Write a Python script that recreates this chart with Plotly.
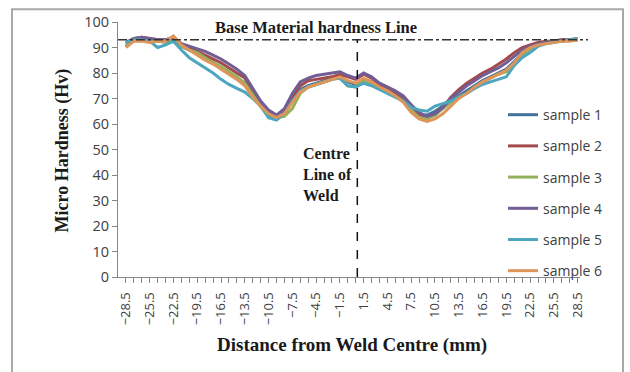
import plotly.graph_objects as go

# Distance from weld centre (mm) - category positions
distance = [-28.5 + i for i in range(58)]

sample_1 = [91.5, 93, 93.5, 93, 92.5, 92.5, 93.5, 90.5, 89, 87.5, 86, 84, 82, 80, 78, 76, 71, 67, 63.5, 62,
            64.5, 70, 73.5, 75, 76, 77, 78, 78.5, 76.5, 75.5, 77.5, 76.5, 74.5, 73, 71.5, 69.5, 66, 63.5, 63.5, 65,
            67, 69, 71, 73, 75, 77, 78.5, 80, 81.5, 84.5, 87.5, 89.5, 91, 92, 92.5, 93, 93, 93.5]
sample_2 = [90.5, 93.5, 94, 93.5, 93, 93, 94, 91, 90, 88.5, 87, 85.5, 84, 82, 80, 78, 73, 68, 64.5, 62.5,
            64, 70.5, 75, 77, 77.5, 78, 78.5, 79.5, 78.5, 77.5, 79.5, 78, 75.5, 74, 72.5, 70.5, 67, 64, 62.5, 63.5,
            66.5, 70.5, 73.5, 76, 78, 80, 81.5, 83.5, 85.5, 88, 90, 91, 92, 92.5, 92.5, 93, 93, 93]
sample_3 = [91, 92.5, 93, 93, 92.5, 92, 93, 90.5, 89, 88, 86, 84, 82.5, 80.5, 78.5, 76, 71.5, 67, 64, 62.5,
            63, 66, 72, 74.5, 75.5, 76.5, 77.5, 78, 75, 74.5, 77, 76, 74, 72.5, 71, 69, 65.5, 62.5, 62, 63.5,
            66, 68.5, 70.5, 72, 74, 76, 78, 79.5, 80.5, 83, 87, 89.5, 91, 92, 92.5, 92.5, 93, 93]
sample_4 = [92, 93.5, 94, 93.5, 93, 93, 94, 91.5, 90.5, 89.5, 88.5, 87, 85.5, 83.5, 81.5, 79, 74, 69, 65.5, 63.5,
            66, 72, 76.5, 78, 79, 79.5, 80, 80.5, 79, 78, 80, 78.5, 76, 74.5, 73, 71, 67.5, 64.5, 63, 64,
            66.5, 70, 72.5, 75, 77, 79, 80.5, 82, 84, 86.5, 89, 90.5, 91.5, 92, 92.5, 92.5, 93, 93]
sample_5 = [92, 93, 93, 92.5, 90, 91, 92.5, 89, 86, 84, 82, 80, 77.5, 75.5, 74, 72.5, 70, 67, 62.5, 61.5,
            64, 69, 73, 74.5, 75.5, 76.5, 77.5, 78, 75, 74.5, 76, 75, 73.5, 72, 70.5, 69, 66.5, 65.5, 65, 67,
            68, 69, 70.5, 72, 74, 75.5, 76.5, 77.5, 78.5, 83, 86, 88, 90.5, 91.5, 92, 92.5, 93, 93.5]
sample_6 = [90, 92.5, 92.5, 92, 92.5, 92.5, 94.5, 91, 89, 87, 85, 83.5, 81.5, 79.5, 77.5, 75, 70.5, 67, 64, 62.5,
            64, 68.5, 72.5, 74.5, 75.5, 76.5, 77.5, 78.5, 77, 76, 78, 76.5, 74.5, 73, 71, 68.5, 64.5, 62, 61, 62,
            64, 67, 70, 72, 74.5, 76.5, 78, 79.5, 81, 84, 88, 90, 91, 91.5, 92, 92.5, 92.5, 93]

series_names = ["sample 1", "sample 2", "sample 3", "sample 4", "sample 5", "sample 6"]
series_values = [sample_1, sample_2, sample_3, sample_4, sample_5, sample_6]
colors = ["#44729A", "#A34A4C", "#94B05A", "#725D94", "#4CA6BE", "#DE955A"]

labelled_ticks = [-28.5 + 3 * i for i in range(20)]
tick_text = [("\u2212" + f"{abs(v):.1f}" if v < 0 else f"{v:.1f}") if v in labelled_ticks else "" for v in distance]

base_hardness = 93
centre_line_x = 0.7

fig = go.Figure()
for name, vals, col in zip(series_names, series_values, colors):
    fig.add_trace(go.Scatter(x=distance, y=vals, mode="lines", name=name, legendgroup=name,
                             line=dict(color=col, width=3)))

L, R, T, B = 118, 50, 19, 95
W, H = 630, 372
pw, ph = W - L - R, H - T - B

def px_x(p):
    return (p - L) / pw

def px_y(p):
    return (H - B - p) / ph

fig.update_layout(
    width=W, height=H,
    margin=dict(l=L, r=R, t=T, b=B, pad=0),
    paper_bgcolor="white", plot_bgcolor="white",
    showlegend=True,
    legend=dict(x=px_x(503), y=px_y(97), xanchor="left", yanchor="top",
                bgcolor="rgba(0,0,0,0)", tracegroupgap=10,
                font=dict(family="Open Sans", size=14, color="#404040")),
    xaxis=dict(range=[-29.5, 28.8], tickmode="array", tickvals=distance, ticktext=tick_text,
               tickangle=-90, ticks="outside", ticklen=5, tickcolor="#868686", ticklabelstandoff=4,
               showline=True, linecolor="#868686", linewidth=1, showgrid=False, zeroline=False,
               tickfont=dict(family="Open Sans", size=13, color="#404040")),
    yaxis=dict(range=[0, 100], dtick=10, ticks="outside", ticklen=5, tickcolor="#868686",
               showline=True, linecolor="#868686", linewidth=1, showgrid=False, zeroline=False,
               tickfont=dict(family="Open Sans", size=14.5, color="#404040")),
)

shapes = [
    dict(type="line", xref="paper", yref="y", x0=0, x1=px_x(588), y0=base_hardness, y1=base_hardness,
         line=dict(color="#333333", width=1.5, dash="dashdot")),
    dict(type="line", xref="x", yref="y", x0=centre_line_x, x1=centre_line_x, y0=0, y1=base_hardness,
         line=dict(color="#111111", width=1.5, dash="dash")),
    dict(type="rect", xref="paper", yref="paper", x0=px_x(12), x1=px_x(623), y0=px_y(6), y1=px_y(390),
         line=dict(color="#A8A8A8", width=2), fillcolor="rgba(0,0,0,0)", layer="below"),
]
fig.update_layout(shapes=shapes)

serif = "Liberation Serif"
annotations = [
    dict(text="<b>Base Material hardness Line</b>", xref="paper", yref="paper", x=px_x(316), y=px_y(25),
         xanchor="center", yanchor="middle", showarrow=False, font=dict(family=serif, size=16.5, color="#1a1a1a")),
    dict(text="<b>Centre<br>Line of<br>Weld</b>", xref="paper", yref="paper", x=px_x(301), y=px_y(173),
         xanchor="left", yanchor="middle", align="left", showarrow=False,
         font=dict(family=serif, size=16, color="#1a1a1a")),
    dict(text="<b>Micro Hardness (Hv)</b>", xref="paper", yref="paper", x=px_x(62), y=px_y(149),
         xanchor="center", yanchor="middle", textangle=-90, showarrow=False,
         font=dict(family=serif, size=18, color="#1a1a1a")),
    dict(text="<b>Distance from Weld Centre (mm)</b>", xref="paper", yref="paper", x=px_x(352), y=px_y(346),
         xanchor="center", yanchor="middle", showarrow=False, font=dict(family=serif, size=19, color="#1a1a1a")),
]
fig.update_layout(annotations=annotations)

fig.write_html("out.html")
